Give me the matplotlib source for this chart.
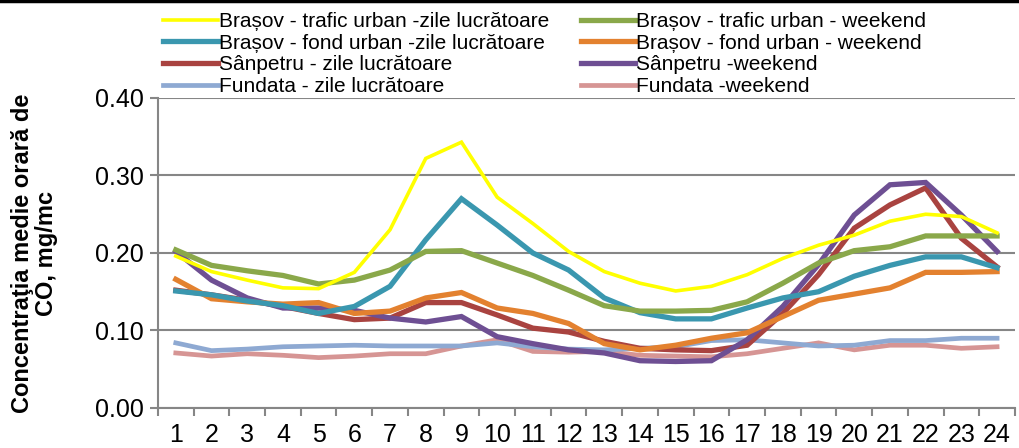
import matplotlib
matplotlib.use('Agg')
import matplotlib.pyplot as plt
from matplotlib.lines import Line2D

plt.rcParams['font.family'] = ['Liberation Sans', 'DejaVu Sans']

hours = list(range(1, 25))

trafic_lucr = [0.196, 0.176, 0.165, 0.155, 0.154, 0.175, 0.230, 0.322, 0.343, 0.272, 0.238, 0.202,
               0.176, 0.161, 0.151, 0.157, 0.172, 0.193, 0.210, 0.223, 0.241, 0.250, 0.247, 0.226]
trafic_wkd = [0.204, 0.184, 0.177, 0.171, 0.160, 0.165, 0.178, 0.202, 0.203, 0.187, 0.171, 0.152,
              0.132, 0.125, 0.125, 0.126, 0.137, 0.161, 0.187, 0.203, 0.208, 0.222, 0.222, 0.222]
fond_lucr = [0.151, 0.146, 0.138, 0.132, 0.122, 0.131, 0.157, 0.217, 0.270, 0.236, 0.200, 0.178,
             0.142, 0.123, 0.115, 0.115, 0.129, 0.142, 0.150, 0.170, 0.184, 0.195, 0.195, 0.181]
fond_wkd = [0.166, 0.141, 0.137, 0.134, 0.136, 0.122, 0.125, 0.142, 0.149, 0.129, 0.122, 0.109,
            0.083, 0.075, 0.081, 0.090, 0.097, 0.118, 0.139, 0.147, 0.155, 0.175, 0.175, 0.176]
sanpetru_lucr = [0.152, 0.146, 0.139, 0.131, 0.122, 0.114, 0.116, 0.136, 0.136, 0.120, 0.103, 0.098,
                 0.086, 0.077, 0.075, 0.074, 0.081, 0.122, 0.172, 0.232, 0.262, 0.284, 0.219, 0.182]
sanpetru_wkd = [0.202, 0.165, 0.142, 0.129, 0.129, 0.126, 0.116, 0.111, 0.118, 0.092, 0.083, 0.075,
                0.071, 0.061, 0.060, 0.061, 0.088, 0.131, 0.185, 0.249, 0.288, 0.291, 0.249, 0.202]
fundata_lucr = [0.084, 0.074, 0.076, 0.079, 0.080, 0.081, 0.080, 0.080, 0.080, 0.084, 0.079, 0.076,
                0.075, 0.077, 0.079, 0.087, 0.088, 0.084, 0.080, 0.081, 0.087, 0.087, 0.090, 0.090]
fundata_wkd = [0.071, 0.067, 0.070, 0.068, 0.065, 0.067, 0.070, 0.070, 0.080, 0.088, 0.073, 0.072,
               0.073, 0.068, 0.067, 0.066, 0.070, 0.077, 0.084, 0.075, 0.081, 0.081, 0.077, 0.079]

labels = ['Brașov - trafic urban -zile lucrătoare', 'Brașov - trafic urban - weekend',
          'Brașov - fond urban -zile lucrătoare', 'Brașov - fond urban - weekend',
          'Sânpetru - zile lucrătoare', 'Sânpetru -weekend',
          'Fundata - zile lucrătoare', 'Fundata -weekend']
series = [trafic_lucr, trafic_wkd, fond_lucr, fond_wkd,
          sanpetru_lucr, sanpetru_wkd, fundata_lucr, fundata_wkd]
colors = ['#FFFF00', '#8AA84A', '#3A97AF', '#E3812F', '#A94340', '#6E4F93', '#8EA9D2', '#D69594']
widths = [2.6, 3.8, 3.8, 3.8, 3.8, 3.8, 3.4, 3.4]

fig = plt.figure(figsize=(10.19, 4.48), dpi=100)
ax = fig.add_axes([0.155, 0.0893, 0.841, 0.692])

# draw order: back to front roughly as in the original
order = [7, 6, 4, 5, 3, 2, 1, 0]
handles = {}
for i in order:
    ln, = ax.plot(hours, series[i], color=colors[i], lw=widths[i], label=labels[i],
                  solid_joinstyle='miter', zorder=3)
    handles[i] = ln

ax.set_xlim(0.5, 24.5)
ax.set_ylim(0, 0.40)
ax.set_yticks([0, 0.1, 0.2, 0.3, 0.4])
ax.set_yticklabels(['0.00', '0.10', '0.20', '0.30', '0.40'])
ax.set_xticks(hours)
ax.set_xticklabels([str(h) for h in hours])
ax.set_xticks([h + 0.5 for h in range(0, 25)], minor=True)
ax.tick_params(axis='x', which='major', length=0, pad=11, labelsize=18)
ax.tick_params(axis='x', which='minor', length=6, width=1.5, color='#868686', direction='out')
ax.tick_params(axis='y', length=6, width=1.5, color='#868686', labelsize=18, pad=4)

ax.grid(axis='y', color='#868686', lw=1.5, zorder=1)
for s in ['top', 'right']:
    ax.spines[s].set_visible(False)
for s in ['left', 'bottom']:
    ax.spines[s].set_color('#868686')
    ax.spines[s].set_linewidth(1.5)

ax.set_ylabel('Concentraţia medie orară de\nCO, mg/mc', fontsize=17, fontweight='bold',
              linespacing=1.05)
ax.yaxis.set_label_coords(-0.117, 0.5)

leg_order = [0, 2, 4, 6, 1, 3, 5, 7]
fig.legend([handles[i] for i in leg_order], [labels[i] for i in leg_order],
           ncol=2, loc='upper left', bbox_to_anchor=(0.145, 1.008), frameon=False,
           fontsize=15, handlelength=2.6, handletextpad=0.05, labelspacing=0.13,
           columnspacing=1.55, borderpad=0.25)

fig.add_artist(Line2D([0, 1], [0.997, 0.997], color='black', lw=2.5, transform=fig.transFigure))

fig.savefig('out.png', dpi=100)
